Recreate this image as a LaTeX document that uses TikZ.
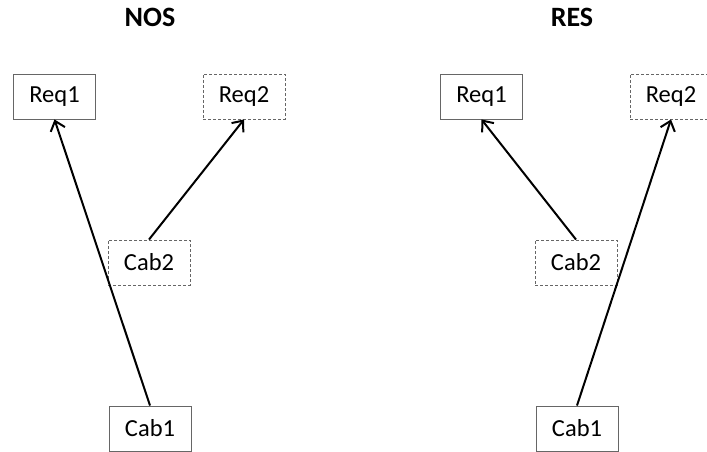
\documentclass[tikz,border=0pt]{standalone}
\usepackage{fontspec}
\setmainfont{Carlito}
\usetikzlibrary{arrows.meta}
\tikzset{
  box/.style={draw=black!60, line width=0.9pt, minimum width=82pt, minimum height=45pt, inner sep=0pt, font=\fontsize{24.5}{27}\selectfont},
  dbox/.style={box, dash pattern=on 3pt off 2pt},
  title/.style={font=\bfseries\fontsize{28}{31}\selectfont},
  link/.style={-{Straight Barb[length=9pt,width=15pt,line width=2pt]}, line width=2pt, black},
}
\begin{document}
\begin{tikzpicture}[x=1pt,y=-1pt]
\path[use as bounding box, clip] (0,0) rectangle (707,452);
\node[title] (t1) at (150,17) {NOS};
\node[title] (t2) at (572,17) {RES};
% NOS
\node[box]  (a1) at (54.5,96.5) {Req1};
\node[dbox] (a2) at (244,96.5) {Req2};
\node[dbox] (a3) at (149,262.5) {Cab2};
\node[box]  (a4) at (150,428.5) {Cab1};
\draw[link] (a4.north) -- (a1.south);
\draw[link] (a3.north) -- (a2.south);
% RES
\node[box]  (b1) at (481.5,96.5) {Req1};
\node[dbox] (b2) at (671,96.5) {Req2};
\node[dbox] (b3) at (576,262.5) {Cab2};
\node[box]  (b4) at (577,428.5) {Cab1};
\draw[link] (b3.north) -- (b1.south);
\draw[link] (b4.north) -- (b2.south);
\end{tikzpicture}
\end{document}
